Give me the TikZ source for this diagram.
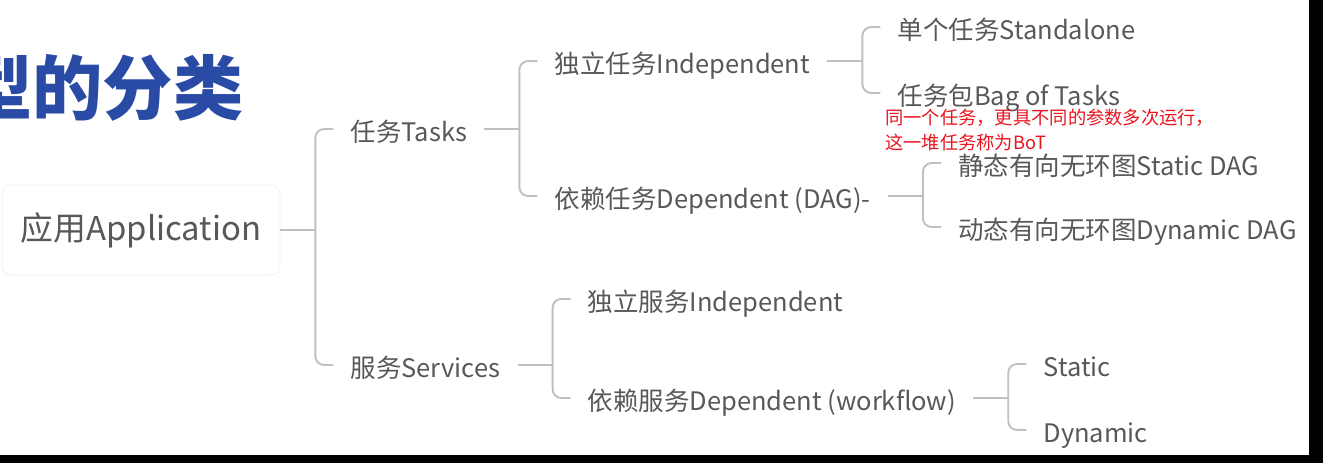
\documentclass[tikz,border=0pt]{standalone}
\usepackage{fontspec}
\setmainfont{Noto Sans CJK SC}
\usepackage{tikz}
\usetikzlibrary{positioning}
\definecolor{titleblue}{RGB}{42,75,165}
\definecolor{textgray}{RGB}{88,88,88}
\definecolor{linegray}{RGB}{192,192,192}
\definecolor{notered}{RGB}{232,20,30}
\definecolor{boxedge}{RGB}{238,238,238}

\begin{document}
\begin{tikzpicture}[x=0.02cm, y=-0.02cm,
  item/.style={inner xsep=0.34cm, inner ysep=2pt, text height=14pt, text depth=0pt,
               text=textgray, font=\fontsize{14.5}{17}\selectfont},
  rootbox/.style={draw=boxedge, fill=white, rounded corners=5pt, minimum width=5.56cm,
                  minimum height=1.8cm, text=textgray, font=\fontsize{18.7}{22}\selectfont},
  link/.style={draw=linegray, line width=1.1pt},
  fork/.style={link, rounded corners=5pt},
  note/.style={text=notered, align=left, inner sep=0pt, font=\fontsize{10.4}{14.3}\selectfont}
]
  \useasboundingbox (0,0) rectangle (1323,463);
  \clip (0,0) rectangle (1323,463);
  % title, cut at the left edge
  \node[anchor=west, inner sep=0pt, text=titleblue, font=\fontsize{40}{44}\selectfont\bfseries] (title) at (-38,88) {型的分类};
  % root and branches
  \node[rootbox] (app) at (141,230) {应用Application};
  \node[item, right=1.06cm of app, yshift=2.02cm] (tasks) {任务Tasks};
  \node[item, right=1.06cm of app, yshift=-2.7cm] (svc) {服务Services};
  \node[item, right=1.06cm of tasks, yshift=1.36cm] (tindep) {独立任务Independent};
  \node[item, right=1.06cm of tasks, yshift=-1.34cm] (tdep) {依赖任务Dependent (DAG)-};
  \node[item, right=1.06cm of tindep, yshift=0.68cm] (single) {单个任务Standalone};
  \node[item, right=1.06cm of tindep, yshift=-0.64cm] (bag) {任务包Bag of Tasks};
  \node[item, right=1.06cm of tdep, yshift=0.66cm] (sdag) {静态有向无环图Static DAG};
  \node[item, right=1.06cm of tdep, yshift=-0.62cm] (ddag) {动态有向无环图Dynamic DAG};
  \node[item, right=1.06cm of svc, yshift=1.32cm] (sindep) {独立服务Independent};
  \node[item, right=1.06cm of svc, yshift=-0.66cm] (sdep) {依赖服务Dependent (workflow)};
  \node[item, right=1.06cm of sdep, yshift=0.68cm] (wstatic) {Static};
  \node[item, right=1.06cm of sdep, yshift=-0.64cm] (wdynamic) {Dynamic};
  % red remark
  \node[note, anchor=north west] (bot) at (885,109) {同一个任务，更具不同的参数多次运行，\\这一堆任务称为BoT};
  % connectors
  \draw[link] (app.east) -- ++(35,0) coordinate (f0);
  \draw[fork] (f0) |- (tasks.west);
  \draw[fork] (f0) |- (svc.west);
  \draw[link] (tasks.east) -- ++(35,0) coordinate (f1);
  \draw[fork] (f1) |- (tindep.west);
  \draw[fork] (f1) |- (tdep.west);
  \draw[link] (tindep.east) -- ++(35,0) coordinate (f2);
  \draw[fork] (f2) |- (single.west);
  \draw[fork] (f2) |- (bag.west);
  \draw[link] (tdep.east) -- ++(35,0) coordinate (f3);
  \draw[fork] (f3) |- (sdag.west);
  \draw[fork] (f3) |- (ddag.west);
  \draw[link] (svc.east) -- ++(35,0) coordinate (f4);
  \draw[fork] (f4) |- (sindep.west);
  \draw[fork] (f4) |- (sdep.west);
  \draw[link] (sdep.east) -- ++(35,0) coordinate (f5);
  \draw[fork] (f5) |- (wstatic.west);
  \draw[fork] (f5) |- (wdynamic.west);
  % dark frame edges of the screenshot
  \fill[black] (1309,0) rectangle (1323,463);
  \fill[black] (0,455) rectangle (1323,463);
\end{tikzpicture}
\end{document}
